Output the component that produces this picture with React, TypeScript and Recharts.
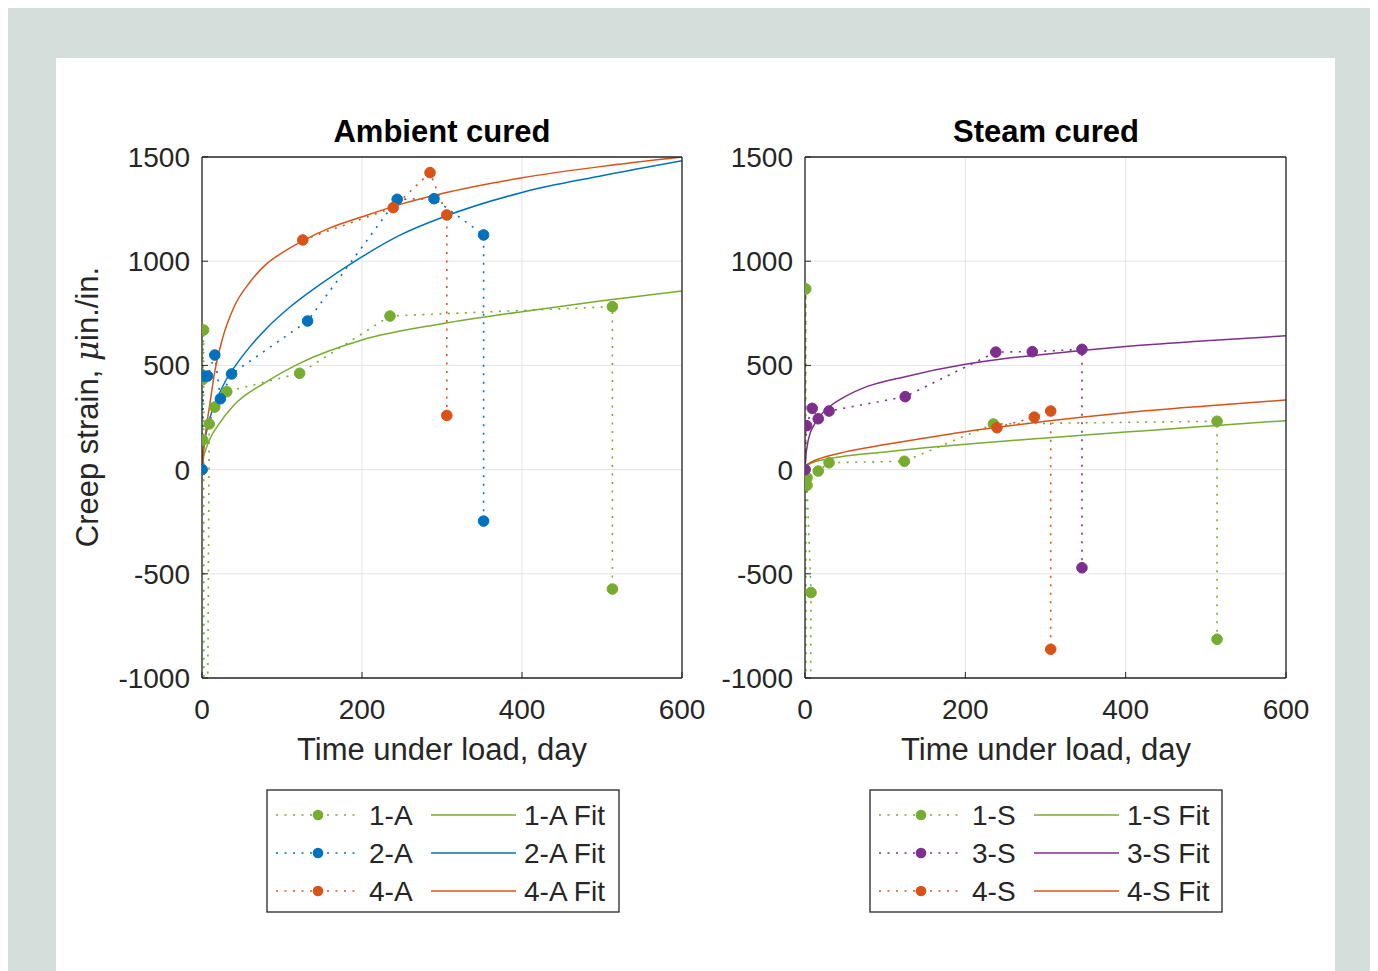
import React from 'react';
import { LineChart, Line, XAxis, YAxis, CartesianGrid } from 'recharts';

const GREEN = '#77AC30';
const BLUE = '#0072BD';
const ORANGE = '#D95319';
const PURPLE = '#7E2F8E';
const AXIS = '#262626';
const FONT = '"Liberation Sans", Arial, Helvetica, sans-serif';

const xTicks = [0, 200, 400, 600];
const yTicks = [-1000, -500, 0, 500, 1000, 1500];

// ambient cured - measured (time in days, strain in microstrain)
const a1Days = [0, 1, 1, 2, 3, 9, 16, 31, 122, 235, 513, 513];
const a1Strain = [0, 142, 433, 670, -4000, 219, 300, 374, 462, 737, 782, -573];
const a2Days = [0, 2, 7, 16, 23, 37, 132, 244, 290, 352, 352];
const a2Strain = [0, 449, 449, 550, 340, 459, 713, 1297, 1300, 1126, -247];
const a4Days = [126, 239, 285, 306, 306];
const a4Strain = [1102, 1257, 1425, 1222, 260];

// ambient cured - fits
const fa1Days = [0, 2, 5, 10, 20, 40, 80, 122, 200, 300, 400, 500, 600];
const fa1Strain = [0, 60, 100, 148, 212, 310, 420, 510, 622, 700, 758, 810, 857];
const fa2Days = [0, 2, 5, 10, 20, 30, 42, 60, 80, 110, 150, 185, 250, 300, 400, 500, 600];
const fa2Strain = [0, 110, 170, 250, 350, 430, 500, 590, 675, 780, 895, 985, 1130, 1210, 1330, 1410, 1482];
const fa4Days = [0, 2, 5, 10, 16, 25, 40, 60, 80, 100, 127, 160, 200, 250, 300, 400, 500, 600];
const fa4Strain = [0, 90, 190, 320, 470, 620, 780, 900, 985, 1040, 1100, 1160, 1213, 1275, 1325, 1400, 1455, 1500];

// steam cured - measured
const s1Days = [0, 1, 1.5, 7.5, 2.5, 2.5, 16.5, 30, 124, 235, 514, 514];
const s1Strain = [0, 867, -6000, -590, -75, -39, -7, 33, 40, 219, 232, -814];
const s3Days = [0, 2, 9, 16.5, 30, 125, 238, 283.5, 345.5, 345.5];
const s3Strain = [0, 211, 294, 244, 281, 350, 564, 566, 577, -471];
const s4Days = [239.5, 286, 306.5, 306.5];
const s4Strain = [201, 252, 281, -862];

// steam cured - fits
const fs1Days = [0, 2, 5, 10, 20, 50, 100, 150, 200, 300, 400, 500, 600];
const fs1Strain = [0, 15, 25, 35, 45, 65, 85, 105, 122, 152, 180, 208, 235];
const fs3Days = [0, 1, 3, 6, 10, 18, 30, 50, 77, 125, 200, 250, 300, 345, 400, 500, 600];
const fs3Strain = [0, 60, 120, 170, 205, 254, 300, 350, 398, 446, 505, 533, 553, 571, 591, 618, 642];
const fs4Days = [0, 2, 5, 10, 20, 50, 100, 150, 200, 250, 300, 400, 500, 600];
const fs4Strain = [0, 20, 30, 40, 55, 85, 120, 152, 182, 208, 232, 273, 305, 334];

const pts = (t: number[], v: number[]) => t.map((x, i) => ({ x, y: v[i] }));

type Series = { name: string; color: string; data: { x: number; y: number }[] };

const ambientData: Series[] = [
  { name: '1-A', color: GREEN, data: pts(a1Days, a1Strain) },
  { name: '2-A', color: BLUE, data: pts(a2Days, a2Strain) },
  { name: '4-A', color: ORANGE, data: pts(a4Days, a4Strain) },
];
const ambientFits: Series[] = [
  { name: '1-A Fit', color: GREEN, data: pts(fa1Days, fa1Strain) },
  { name: '2-A Fit', color: BLUE, data: pts(fa2Days, fa2Strain) },
  { name: '4-A Fit', color: ORANGE, data: pts(fa4Days, fa4Strain) },
];
const steamData: Series[] = [
  { name: '1-S', color: GREEN, data: pts(s1Days, s1Strain) },
  { name: '3-S', color: PURPLE, data: pts(s3Days, s3Strain) },
  { name: '4-S', color: ORANGE, data: pts(s4Days, s4Strain) },
];
const steamFits: Series[] = [
  { name: '1-S Fit', color: GREEN, data: pts(fs1Days, fs1Strain) },
  { name: '3-S Fit', color: PURPLE, data: pts(fs3Days, fs3Strain) },
  { name: '4-S Fit', color: ORANGE, data: pts(fs4Days, fs4Strain) },
];

const tickStyle = { fontSize: 28, fill: AXIS, fontFamily: FONT };

function Panel({ width, data, fits }: { width: number; data: Series[]; fits: Series[] }) {
  return (
    <LineChart width={width} height={640} margin={{ top: 56, right: 57, bottom: 12, left: 72 }}>
      <CartesianGrid stroke="#e4e4e4" strokeWidth={1} />
      <XAxis
        dataKey="x"
        type="number"
        domain={[0, 600]}
        ticks={xTicks}
        interval={0}
        allowDataOverflow
        height={50}
        tickSize={-6}
        tickMargin={27}
        tick={tickStyle}
        axisLine={{ stroke: AXIS, strokeWidth: 1.3 }}
        tickLine={{ stroke: AXIS }}
      />
      <XAxis
        xAxisId="top"
        orientation="top"
        type="number"
        domain={[0, 600]}
        ticks={xTicks}
        interval={0}
        allowDataOverflow
        height={1}
        tickSize={-6}
        tick={false}
        axisLine={{ stroke: AXIS, strokeWidth: 1.3 }}
        tickLine={{ stroke: AXIS }}
      />
      <YAxis
        type="number"
        domain={[-1000, 1500]}
        ticks={yTicks}
        interval={0}
        allowDataOverflow
        width={70}
        tickSize={-6}
        tickMargin={18}
        tick={tickStyle}
        axisLine={{ stroke: AXIS, strokeWidth: 1.3 }}
        tickLine={{ stroke: AXIS }}
      />
      <YAxis
        yAxisId="right"
        orientation="right"
        type="number"
        domain={[-1000, 1500]}
        ticks={yTicks}
        interval={0}
        allowDataOverflow
        width={1}
        tickSize={-6}
        tick={false}
        axisLine={{ stroke: AXIS, strokeWidth: 1.3 }}
        tickLine={{ stroke: AXIS }}
      />
      {data.map((s) => (
        <Line
          key={s.name}
          data={s.data}
          dataKey="y"
          type="linear"
          stroke={s.color}
          strokeWidth={1.6}
          strokeDasharray="2 6.5"
          dot={{ r: 5.3, fill: s.color, stroke: s.color, strokeWidth: 1, strokeDasharray: '' }}
          activeDot={false}
          isAnimationActive={false}
        />
      ))}
      {fits.map((s) => (
        <Line
          key={s.name}
          data={s.data}
          dataKey="y"
          type="monotone"
          stroke={s.color}
          strokeWidth={1.5}
          dot={false}
          activeDot={false}
          isAnimationActive={false}
        />
      ))}
    </LineChart>
  );
}

function LegendBox({ left, data, fits }: { left: number; data: Series[]; fits: Series[] }) {
  const rows = [26, 64, 102];
  return (
    <svg
      width={354}
      height={124}
      style={{ position: 'absolute', left, top: 789, background: '#fff' }}
    >
      <rect x={1} y={1} width={352} height={122} fill="#fff" stroke={AXIS} strokeWidth={1.3} />
      {data.map((s, i) => (
        <g key={s.name}>
          <line x1={10} x2={90} y1={rows[i]} y2={rows[i]} stroke={s.color} strokeWidth={1.6} strokeDasharray="2 6.5" />
          <circle cx={52} cy={rows[i]} r={5.3} fill={s.color} />
          <text x={103} y={rows[i]} dominantBaseline="central" fontSize={28} fill={AXIS} fontFamily={FONT}>
            {s.name}
          </text>
          <line x1={165} x2={250} y1={rows[i]} y2={rows[i]} stroke={fits[i].color} strokeWidth={1.5} />
          <text x={258} y={rows[i]} dominantBaseline="central" fontSize={28} fill={AXIS} fontFamily={FONT}>
            {fits[i].name}
          </text>
        </g>
      ))}
    </svg>
  );
}

export default function App() {
  return (
    <div style={{ position: 'absolute', left: 0, top: 0, width: 1378, height: 971, overflow: 'hidden', fontFamily: FONT }}>
      <div style={{ position: 'absolute', left: 8, top: 8, width: 1362, height: 963, background: '#d5dedb' }} />
      <div style={{ position: 'absolute', left: 56, top: 58, width: 1279, height: 913, background: '#fff' }} />
      <div style={{ position: 'absolute', left: 60, top: 100 }}>
        <Panel width={680} data={ambientData} fits={ambientFits} />
      </div>
      <div style={{ position: 'absolute', left: 663, top: 100 }}>
        <Panel width={681} data={steamData} fits={steamFits} />
      </div>
      <svg width={1378} height={971} style={{ position: 'absolute', left: 0, top: 0, pointerEvents: 'none' }}>
        <text x={442} y={142} textAnchor="middle" fontSize={31} fontWeight="bold" fill="#000" fontFamily={FONT}>
          Ambient cured
        </text>
        <text x={1046} y={142} textAnchor="middle" fontSize={31} fontWeight="bold" fill="#000" fontFamily={FONT}>
          Steam cured
        </text>
        <text x={442} y={760} textAnchor="middle" fontSize={31} fill={AXIS} fontFamily={FONT}>
          Time under load, day
        </text>
        <text x={1046} y={760} textAnchor="middle" fontSize={31} fill={AXIS} fontFamily={FONT}>
          Time under load, day
        </text>
        <text
          transform="translate(98,407) rotate(-90)"
          textAnchor="middle"
          fontSize={31}
          fill={AXIS}
          fontFamily={FONT}
        >
          Creep strain, <tspan fontStyle="italic" fontFamily="'DejaVu Serif', serif">μ</tspan>in./in.
        </text>
      </svg>
      <LegendBox left={266} data={ambientData} fits={ambientFits} />
      <LegendBox left={869} data={steamData} fits={steamFits} />
    </div>
  );
}
